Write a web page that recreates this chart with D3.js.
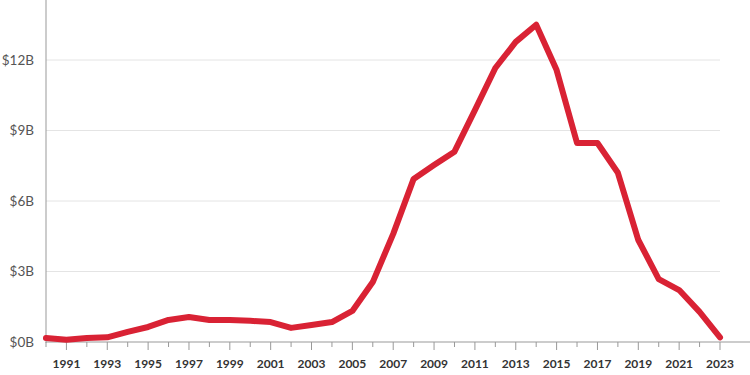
<!DOCTYPE html>
<html>
<head>
<meta charset="utf-8">
<script src="https://cdn.jsdelivr.net/npm/d3@7"></script>
<style>
  body { margin: 0; background: #fff; }
  svg { display: block; }
  .yax text { font-family: "Source Sans Pro", Lato, "Open Sans", sans-serif; font-size: 13.5px; fill: #555; }
  .xax text { font-family: Lato, "Open Sans", sans-serif; font-size: 12px; font-weight: bold; fill: #333; }
</style>
</head>
<body>
<svg id="chart" width="750" height="375"></svg>
<script>
// years and values (billions of dollars)
var years = [1990,1991,1992,1993,1994,1995,1996,1997,1998,1999,2000,2001,2002,2003,2004,2005,2006,2007,2008,2009,2010,2011,2012,2013,2014,2015,2016,2017,2018,2019,2020,2021,2022,2023];
var values = [0.17,0.1,0.17,0.2,0.43,0.64,0.94,1.06,0.94,0.94,0.9,0.85,0.6,0.72,0.85,1.32,2.55,4.6,6.94,7.53,8.1,9.87,11.66,12.77,13.5,11.57,8.47,8.47,7.2,4.34,2.68,2.21,1.28,0.2];
var yTicks = [0,3,6,9,12];
var xLabelYears = years.filter(function(y){ return y % 2 == 1; });

var svg = d3.select("#chart");
var left = 46, right = 720, bottom = 342;

var x = d3.scaleLinear().domain([1990, 2023]).range([left, right]);
var y = d3.scaleLinear().domain([0, 12]).range([bottom, 60]);

// gridlines
svg.append("g").selectAll("line")
  .data(yTicks.filter(function(d){ return d > 0; }))
  .enter().append("line")
  .attr("x1", left).attr("x2", right)
  .attr("y1", function(d){ return y(d); })
  .attr("y2", function(d){ return y(d); })
  .attr("stroke", "#e4e4e4")
  .attr("stroke-width", 1);

// y axis labels
var yax = svg.append("g").attr("class", "yax");
yax.selectAll("text")
  .data(yTicks)
  .enter().append("text")
  .attr("x", 34)
  .attr("y", function(d){ return y(d); })
  .attr("dy", "0.35em")
  .attr("text-anchor", "end")
  .text(function(d){ return "$" + d + "B"; });

// y axis line
svg.append("line")
  .attr("x1", left).attr("x2", left)
  .attr("y1", 0).attr("y2", bottom + 1)
  .attr("stroke", "#999");

// x axis
var xax = svg.append("g").attr("class", "xax");
xax.append("line")
  .attr("x1", left).attr("x2", 750)
  .attr("y1", bottom).attr("y2", bottom)
  .attr("stroke", "#999");
xax.selectAll("line.tick")
  .data(years)
  .enter().append("line")
  .attr("class", "tick")
  .attr("x1", function(d){ return x(d); })
  .attr("x2", function(d){ return x(d); })
  .attr("y1", bottom)
  .attr("y2", function(d){ return d % 2 == 1 ? bottom + 8 : bottom + 5; })
  .attr("stroke", "#999");
xax.selectAll("text")
  .data(xLabelYears)
  .enter().append("text")
  .attr("x", function(d){ return x(d); })
  .attr("y", 368)
  .attr("text-anchor", "middle")
  .text(function(d){ return d; });

// the line
var line = d3.line()
  .x(function(d, i){ return x(years[i]); })
  .y(function(d){ return y(d); });

svg.append("path")
  .datum(values)
  .attr("d", line)
  .attr("fill", "none")
  .attr("stroke", "#d92234")
  .attr("stroke-width", 6)
  .attr("stroke-linejoin", "round")
  .attr("stroke-linecap", "round");
</script>
</body>
</html>
